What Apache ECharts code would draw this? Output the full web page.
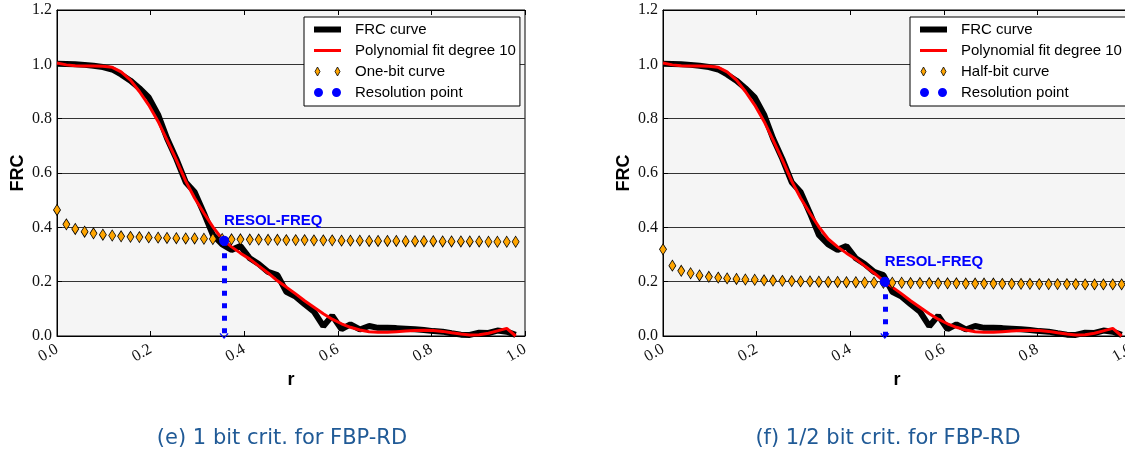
<!DOCTYPE html>
<html>
<head>
<meta charset="utf-8">
<script src="https://cdn.jsdelivr.net/npm/echarts@6/dist/echarts.min.js"></script>
<style>
  html, body { margin: 0; padding: 0; background: #fff; }
  #chart { width: 1125px; height: 463px; }
</style>
</head>
<body>
<div id="chart"></div>
<script>
// spatial frequency samples
const r = [0.000, 0.020, 0.039, 0.059, 0.078, 0.098, 0.118, 0.137, 0.157, 0.176,
  0.196, 0.216, 0.235, 0.255, 0.275, 0.294, 0.314, 0.333, 0.353, 0.373,
  0.392, 0.412, 0.431, 0.451, 0.471, 0.490, 0.510, 0.529, 0.549, 0.569,
  0.588, 0.608, 0.627, 0.647, 0.667, 0.686, 0.706, 0.725, 0.745, 0.765,
  0.784, 0.804, 0.824, 0.843, 0.863, 0.882, 0.902, 0.922, 0.941, 0.961, 0.980]

const frc = [1.002, 1.001, 1.000, 0.998, 0.995, 0.990, 0.981, 0.963, 0.940, 0.912,
  0.878, 0.815, 0.728, 0.652, 0.566, 0.530, 0.452, 0.372, 0.337, 0.317,
  0.331, 0.286, 0.265, 0.236, 0.224, 0.163, 0.145, 0.117, 0.090, 0.036,
  0.075, 0.025, 0.043, 0.024, 0.037, 0.030, 0.030, 0.029, 0.027, 0.025,
  0.022, 0.018, 0.016, 0.010, 0.005, 0.004, 0.012, 0.011, 0.020, 0.016, 0.004]

const polyFit = [1.005, 0.998, 0.995, 0.994, 0.994, 0.993, 0.989, 0.972, 0.942, 0.900,
  0.850, 0.790, 0.722, 0.648, 0.570, 0.508, 0.452, 0.402, 0.357, 0.328,
  0.305, 0.283, 0.258, 0.232, 0.203, 0.180, 0.155, 0.130, 0.106, 0.082,
  0.062, 0.045, 0.032, 0.022, 0.016, 0.014, 0.014, 0.016, 0.018, 0.020,
  0.021, 0.020, 0.017, 0.012, 0.007, 0.004, 0.005, 0.010, 0.019, 0.028, 0.000]

const oneBit = [0.464, 0.411, 0.394, 0.384, 0.378, 0.373, 0.370, 0.367, 0.365, 0.364,
  0.363, 0.362, 0.361, 0.360, 0.359, 0.359, 0.358, 0.357, 0.357, 0.356,
  0.356, 0.355, 0.355, 0.354, 0.354, 0.353, 0.353, 0.353, 0.352, 0.352,
  0.352, 0.351, 0.351, 0.351, 0.350, 0.350, 0.350, 0.350, 0.349, 0.349,
  0.349, 0.349, 0.348, 0.348, 0.348, 0.348, 0.348, 0.347, 0.347, 0.347, 0.347]

const halfBit = [0.319, 0.259, 0.240, 0.231, 0.223, 0.218, 0.215, 0.212, 0.210, 0.208,
  0.207, 0.205, 0.204, 0.203, 0.202, 0.201, 0.201, 0.200, 0.199, 0.199,
  0.198, 0.198, 0.197, 0.197, 0.196, 0.196, 0.196, 0.195, 0.195, 0.195,
  0.194, 0.194, 0.194, 0.193, 0.193, 0.193, 0.193, 0.192, 0.192, 0.192,
  0.192, 0.191, 0.191, 0.191, 0.191, 0.191, 0.190, 0.190, 0.190, 0.190, 0.190]

// [r, FRC] where the curve meets the threshold
const resolOneBit = [0.357, 0.351]
const resolHalfBit = [0.474, 0.200]

const captions = ['(e) 1 bit crit. for FBP-RD', '(f) 1/2 bit crit. for FBP-RD']
const bitNames = ['One-bit curve', 'Half-bit curve']

const pairs = (ys) => r.map((x, i) => [x, ys[i]])

const panels = [
  { left: 57, bit: oneBit, bitName: bitNames[0], resol: resolOneBit, caption: captions[0], captionX: 282 },
  { left: 663, bit: halfBit, bitName: bitNames[1], resol: resolHalfBit, caption: captions[1], captionX: 888 }
]

const serifLabel = { fontFamily: 'Liberation Serif', fontSize: 16, color: '#111' }
const boldName = { fontFamily: 'Liberation Sans', fontWeight: 'bold', fontSize: 18, color: '#000' }
const fmt = v => v.toFixed(1)

const diamondsIcon = 'path://M3.5,0.5 L6,5 L3.5,9.5 L1,5 Z M23.5,0.5 L26,5 L23.5,9.5 L21,5 Z M0,0 M27,10'
const circlesIcon = 'path://M0,5a4.5,4.5 0 1,0 9,0a4.5,4.5 0 1,0 -9,0 M18,5a4.5,4.5 0 1,0 9,0a4.5,4.5 0 1,0 -9,0'
const chevron = 'path://M5,0 L10,7 L9,8 L5,2.5 L1,8 L0,7 Z'

const grid = [], xAxis = [], yAxis = [], series = [], legend = [], title = []

panels.forEach((p, i) => {
  grid.push({
    left: p.left, top: 10, width: 468, height: 326,
    outerBoundsMode: 'none', containLabel: false,
    show: true, backgroundColor: '#f5f5f5', borderColor: '#000', borderWidth: 1
  })

  xAxis.push({
    gridIndex: i, type: 'value', min: 0, max: 1, interval: 0.2,
    name: 'r', nameLocation: 'middle', nameGap: 31, nameTextStyle: boldName,
    axisLine: { show: true, onZero: false, lineStyle: { color: '#000', width: 1 } },
    axisTick: { show: true, inside: true, length: 5, lineStyle: { color: '#000' } },
    axisLabel: { rotate: 30, margin: 12, formatter: fmt, ...serifLabel },
    splitLine: { show: false }
  })
  xAxis.push({
    gridIndex: i, type: 'value', position: 'top', min: 0, max: 1, interval: 0.2,
    axisLine: { show: true, onZero: false, lineStyle: { color: '#000', width: 1 } },
    axisTick: { show: true, inside: true, length: 5, lineStyle: { color: '#000' } },
    axisLabel: { show: false },
    splitLine: { show: false }
  })

  yAxis.push({
    gridIndex: i, type: 'value', min: 0, max: 1.2, interval: 0.2,
    name: 'FRC', nameLocation: 'middle', nameGap: 30, nameRotate: 90, nameTextStyle: boldName,
    axisLine: { show: true, onZero: false, lineStyle: { color: '#000', width: 1 } },
    axisTick: { show: true, inside: true, length: 5, lineStyle: { color: '#000' } },
    axisLabel: { margin: 5, formatter: fmt, ...serifLabel },
    splitLine: { show: true, lineStyle: { color: '#333', width: 1 } }
  })

  const ax = { xAxisIndex: 2 * i, yAxisIndex: i }

  series.push({
    name: 'FRC curve', type: 'line', ...ax, data: pairs(frc),
    symbol: 'none', lineStyle: { color: '#000', width: 6 }, itemStyle: { color: '#000' }, z: 2
  })
  series.push({
    name: 'Polynomial fit degree 10', type: 'line', ...ax, data: pairs(polyFit),
    symbol: 'none', lineStyle: { color: '#ff0000', width: 3 }, itemStyle: { color: '#ff0000' }, z: 3
  })
  series.push({
    name: p.bitName, type: 'scatter', ...ax, data: pairs(p.bit),
    symbol: 'diamond', symbolSize: [7, 11],
    itemStyle: { color: '#ffa500', borderColor: '#000', borderWidth: 0.8, opacity: 1 }, z: 4
  })
  series.push({
    name: 'Resolution point', type: 'scatter', ...ax, data: [p.resol],
    symbol: 'circle', symbolSize: 10, itemStyle: { color: '#0000ff', opacity: 1 }, z: 5,
    label: {
      show: true, formatter: 'RESOL-FREQ', position: [5, -14.5], align: 'left', verticalAlign: 'middle',
      color: '#0000ff', fontFamily: 'Liberation Sans', fontWeight: 'bold', fontSize: 15
    },
    markLine: {
      silent: true, symbol: ['none', chevron], symbolSize: [9, 6],
      label: { show: false },
      lineStyle: { color: '#0000ff', width: 5, type: [5, 7.5] },
      data: [[{ coord: p.resol }, { coord: [p.resol[0], 0] }]]
    }
  })

  legend.push({
    orient: 'vertical', left: p.left + 247, top: 17,
    backgroundColor: '#fff', borderColor: '#000', borderWidth: 1, borderRadius: 0,
    padding: [5, 4, 6, 7], itemWidth: 27, itemHeight: 14, itemGap: 6,
    selectedMode: false,
    textStyle: { fontFamily: 'Liberation Sans', fontSize: 15, color: '#000', padding: [0, 0, 0, 9] },
    lineStyle: { width: 'inherit' },
    data: [
      { name: 'FRC curve', itemStyle: { opacity: 0 } },
      { name: 'Polynomial fit degree 10', itemStyle: { opacity: 0 } },
      { name: p.bitName, icon: diamondsIcon, itemStyle: { color: '#ffa500', borderColor: '#000', borderWidth: 0.8 } },
      { name: 'Resolution point', icon: circlesIcon, itemStyle: { color: '#0000ff' } }
    ]
  })

  title.push({
    text: p.caption, left: p.captionX, top: 428, textAlign: 'center', padding: 0,
    textStyle: { fontFamily: 'DejaVu Sans', fontSize: 21, fontWeight: 'normal', color: '#205a96' }
  })
})

const chart = echarts.init(document.getElementById('chart'))
chart.setOption({
  animation: false,
  backgroundColor: '#fff',
  title, grid, xAxis, yAxis, legend, series
})
</script>
</body>
</html>
